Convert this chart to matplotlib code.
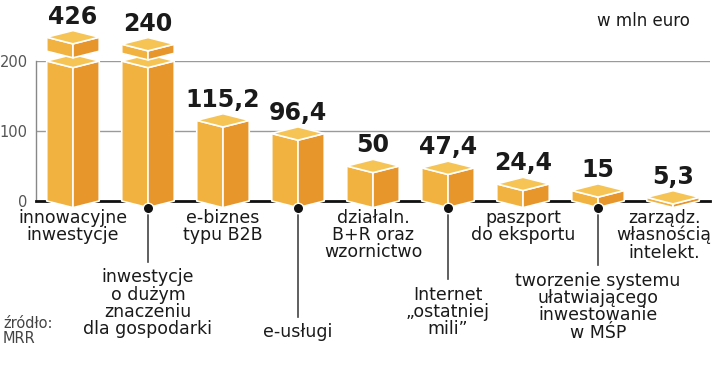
import numpy as np
import matplotlib.pyplot as plt
from matplotlib.patches import Polygon

# data (mln euro)
labels = ['innowacyjne\ninwestycje',
          'inwestycje\no dużym\nznaczeniu\ndla gospodarki',
          'e-biznes\ntypu B2B',
          'e-usługi',
          'działaln.\nB+R oraz\nwzornictwo',
          'Internet\n„ostatniej\nmili”',
          'paszport\ndo eksportu',
          'tworzenie systemu\nułatwiającego\ninwestowanie\nw MŚP',
          'zarządz.\nwłasnością\nintelekt.']
values = [426, 240, 115.2, 96.4, 50, 47.4, 24.4, 15, 5.3]

# axis break for the two tall bars
cap = 200
slab_gap = [14, 11]
slab_height = [20, 13]

# colours
c_left = '#F1B23F'
c_right = '#E7962B'
c_top = '#F6C355'

w = 0.35   # half width of a box (x units)
d = 9.5    # half height of the top diamond (value units)


def box(ax, x, base, top):
    left = [(x - w, base), (x, base - d), (x, top - d), (x - w, top)]
    right = [(x, base - d), (x + w, base), (x + w, top), (x, top - d)]
    lid = [(x - w, top), (x, top + d), (x + w, top), (x, top - d)]
    for pts, c in ((left, c_left), (right, c_right), (lid, c_top)):
        ax.add_patch(Polygon(pts, closed=True, facecolor=c, edgecolor='white',
                             lw=1.2, joinstyle='round', zorder=3, clip_on=False))


fig = plt.figure(figsize=(7.2, 3.69), dpi=100)
ax = fig.add_axes([36 / 720, 168 / 369, 674 / 720, 140 / 369])
ax.set_xlim(-0.493, 8.493)
ax.set_ylim(0, 200)

ax.set_xticks([])
ax.set_yticks([0, 100, 200])
ax.tick_params(axis='y', length=0, pad=6, labelcolor='#555555', labelsize=10.5)
ax.yaxis.grid(True, color='#9a9a9a', lw=1)
ax.set_axisbelow(True)
for s in ('top', 'right'):
    ax.spines[s].set_visible(False)
ax.spines['left'].set_color('#888888')
ax.spines['left'].set_linewidth(1)
ax.spines['bottom'].set_color('#111111')
ax.spines['bottom'].set_linewidth(2)

for i, v in enumerate(values):
    if v > cap:
        k = i
        box(ax, i, 0, cap)
        b = cap + slab_gap[k]
        top = b + slab_height[k]
        box(ax, i, b, top)
    else:
        top = v
        box(ax, i, 0, v)
    txt = f'{v:g}'.replace('.', ',')
    ax.annotate(txt, (i, top + d), xytext=(0, 5), textcoords='offset points',
                ha='center', va='baseline', fontsize=17, fontweight='bold',
                color='#1a1a1a', annotation_clip=False)

# category labels: odd ones right below, even ones on leader lines
label_top = {1: -96, 3: -174, 5: -121, 7: -101}
for i, s in enumerate(labels):
    x = i
    if i in label_top:
        y = label_top[i]
        ax.plot([i, i], [-d, y + 9], color='#444444', lw=1.2, zorder=4,
                clip_on=False)
        ax.plot(i, -d, 'o', ms=7.5, color='#111111', mec='white', mew=1,
                zorder=5, clip_on=False)
    else:
        y = -11
    if i == len(labels) - 1:
        x = i - 0.12   # keep last label inside the frame
    ax.text(x, y, s, ha='center', va='top', fontsize=12.5, linespacing=0.95,
            color='#1a1a1a')

fig.text(690 / 720, 1 - 21 / 369, 'w mln euro', ha='right', va='center',
         fontsize=12, color='#1a1a1a')
fig.text(3 / 720, 1 - 331 / 369, 'źródło:\nMRR', ha='left', va='center',
         fontsize=10.5, color='#444444', linespacing=1.0)

fig.savefig('out.png', dpi=100)
